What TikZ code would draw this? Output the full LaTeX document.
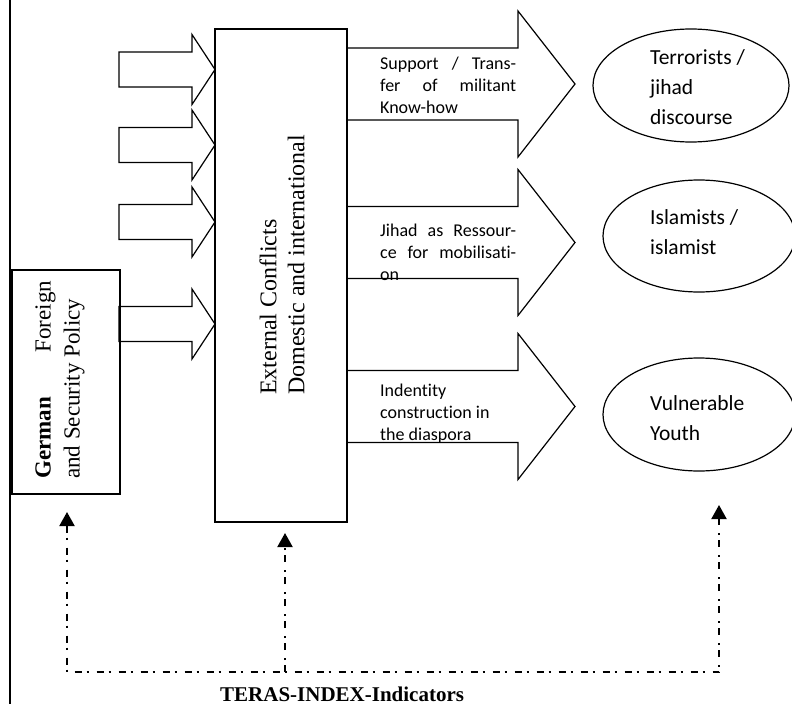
\documentclass[tikz,border=0pt]{standalone}
\usepackage{fontspec}
\setmainfont{Liberation Serif}
\newfontfamily\calfont[Ligatures=NoCommon]{Carlito}
\usetikzlibrary{arrows.meta,shapes.geometric}
\begin{document}
\begin{tikzpicture}[x=1pt,y=-1pt,line join=miter,
  shp/.style={draw=black,line width=1.2pt,fill=white},
  boxnode/.style={draw=black,line width=1.2pt,inner sep=0pt},
  ell/.style={draw=black,line width=1.2pt,ellipse,inner sep=0pt},
  armtext/.style={anchor=base west,align=left,inner sep=0pt,font=\calfont\fontsize{18}{22}\selectfont},
  elltext/.style={anchor=base west,align=left,inner sep=0pt,font=\calfont\fontsize{21.5}{30}\selectfont},
  dd/.style={line width=2pt,dash pattern=on 7pt off 5pt on 2pt off 8pt},
  tip/.style={-{Triangle[length=14pt,width=15pt]}}]
\useasboundingbox (0,0) rectangle (792,704);
% left border line
\draw[line width=2pt] (10,0) -- (10,704);
% small input arrows
\foreach \c in {69.5,145,222,324}{
  \draw[shp] (119,\c-17.5) -- (192,\c-17.5) -- (192,\c-35) -- (215,\c) -- (192,\c+35) -- (192,\c+17.5) -- (119,\c+17.5) -- cycle;
}
% German box
\node[boxnode,minimum width=108pt,minimum height=224pt] (gfsp) at (66,382) {};
\node[rotate=90,anchor=west,align=left,inner sep=0pt,font=\fontsize{23}{29}\selectfont] (gfspt) at (60,479)
  {\makebox[198pt][s]{\textbf{German} Foreign}\\and Security Policy};
% big output arrows
\foreach \c in {84,242.5,406.5}{
  \draw[shp] (347,\c-36) -- (518,\c-36) -- (518,\c-73) -- (575,\c) -- (518,\c+73) -- (518,\c+36) -- (347,\c+36) -- cycle;
}
% central box
\node[boxnode,fill=white,minimum width=132pt,minimum height=493pt] (ext) at (281,275.5) {};
\node[rotate=90,anchor=west,align=left,inner sep=0pt,font=\fontsize{24}{28}\selectfont] (extt) at (282,395)
  {External Conflicts\\Domestic and international};
% arrow texts (anchored at the baseline of the last line)
\node[armtext] (ta) at (380,113) {\makebox[136pt][s]{Support / Trans-}\\\makebox[136pt][s]{fer of militant}\\Know-how};
\node[armtext] (tb) at (380,280) {\makebox[136pt][s]{Jihad as Ressour-}\\\makebox[136pt][s]{ce for mobilisati-}\\on};
\node[armtext] (tc) at (380,440) {Indentity\\construction in\\the diaspora};
% ellipses
\node[ell,minimum width=196pt,minimum height=113pt] (terr) at (691,85.5) {};
\node[ell,minimum width=192pt,minimum height=112pt] (isl) at (699,236) {};
\node[ell,minimum width=192pt,minimum height=113pt] (vul) at (699,414.5) {};
\node[elltext] (terrt) at (650,124) {Terrorists /\\jihad\\discourse};
\node[elltext] (islt) at (650,254) {Islamists /\\islamist};
\node[elltext] (vult) at (650,440) {Vulnerable\\Youth};
% indicator lines
\coordinate (tL) at (67,512);
\coordinate (tM) at (285,533);
\coordinate (tR) at (719,505);
\coordinate (cL) at (67,672);
\coordinate (cM) at (285,672);
\coordinate (cR) at (719,672);
\draw[dd,{Triangle[length=14pt,width=15pt]}-{Triangle[length=14pt,width=15pt]}] (tL) -- (cL) -- (cR) -- (tR);
\draw[dd,tip] (cM) -- (tM);
\node[anchor=base west,inner sep=0pt,font=\bfseries\fontsize{21}{25}\selectfont] (teras) at (220,701) {TERAS-INDEX-Indicators};
\end{tikzpicture}
\end{document}
